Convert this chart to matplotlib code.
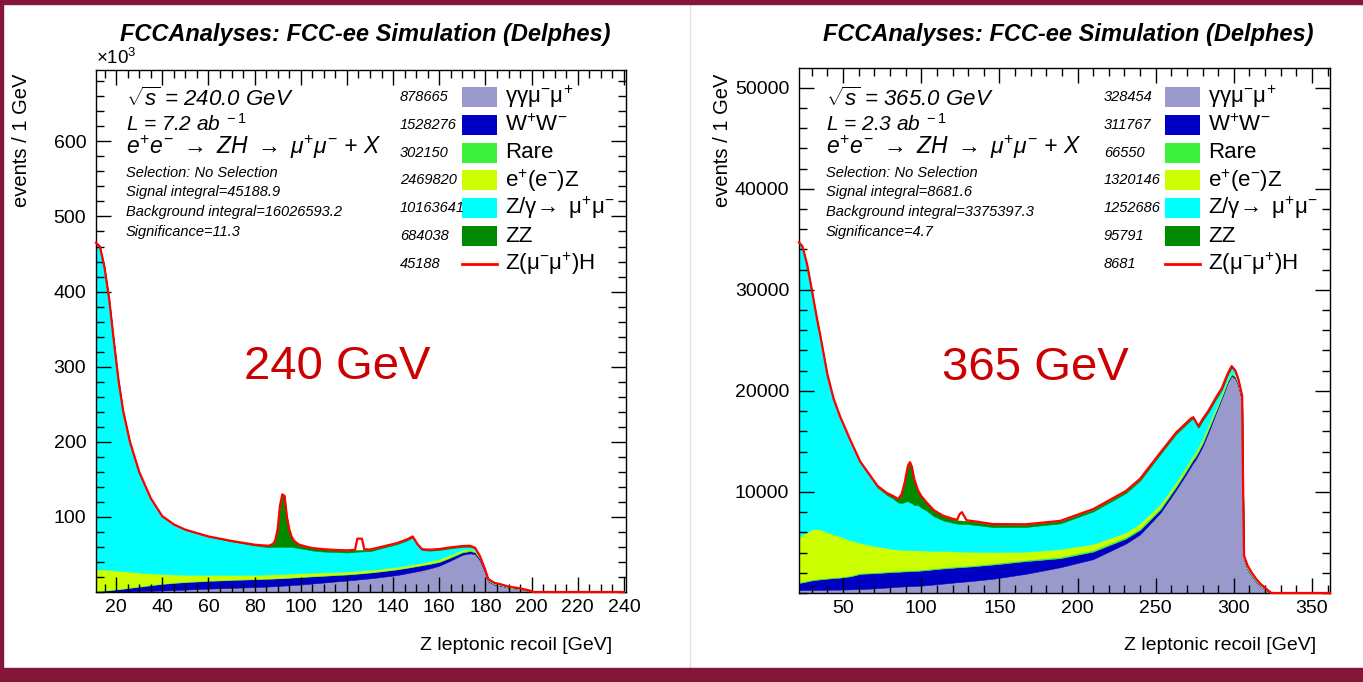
import numpy as np
import matplotlib
matplotlib.use("Agg")
import matplotlib.pyplot as plt
from matplotlib.patches import Rectangle
from matplotlib.lines import Line2D
from matplotlib.ticker import MultipleLocator

# Fuentes tipo Helvetica (ROOT)
plt.rcParams['font.family'] = ['Liberation Sans', 'DejaVu Sans']
plt.rcParams['mathtext.fontset'] = 'custom'
plt.rcParams['mathtext.rm'] = 'Liberation Sans'
plt.rcParams['mathtext.it'] = 'Liberation Sans:italic'
plt.rcParams['mathtext.bf'] = 'Liberation Sans:bold'

W, H = 1363, 682

# ---------------- datos 240 GeV (x10^3 eventos / GeV) ----------------
x240 = [11.3, 13, 15, 17, 19, 21, 23, 26, 30, 35,
        40, 45, 50, 60, 70, 80, 86, 88, 89, 90,
        91, 92, 93, 94, 95, 96, 97, 99, 101, 105,
        110, 115, 120, 123.5, 124.5, 126.5, 127.5, 130, 134, 141.5,
        146, 148.5, 150.5, 152.5, 156, 160, 165, 170, 173.3, 175.5,
        177.6, 179.8, 181.2, 184, 186.3, 190, 195, 199.3, 200.5, 240]
gg240 = [0.3, 0.3, 0.4, 0.4, 0.5, 0.5, 0.6, 0.8, 1.1, 1.5,
         2.0, 2.6, 3.2, 4.5, 5.5, 6.5, 7.3, 7.6, 7.8, 8.0,
         8.2, 8.4, 8.6, 8.8, 9.0, 9.2, 9.4, 9.8, 10.2, 11.3,
         12.6, 14.0, 15.3, 16.3, 16.6, 17.2, 17.5, 18.2, 19.6, 22.5,
         25.0, 26.5, 27.7, 28.9, 31.5, 35.0, 42.0, 49.5, 51.5, 50.5,
         42.0, 26.0, 14.0, 9.5, 8.5, 5.8, 3.9, 1.4, 0, 0]
ww240 = [0.8, 1.0, 1.5, 2.0, 2.6, 3.2, 3.8, 4.8, 6.0, 7.5,
         8.8, 9.5, 10.0, 10.3, 10.5, 10.5, 10.3, 10.2, 10.2, 10.1,
         10.1, 10.0, 10.0, 10.0, 9.9, 9.9, 9.9, 9.8, 9.8, 9.5,
         9.0, 8.5, 8.0, 7.8, 7.8, 7.7, 7.7, 7.7, 7.6, 7.5,
         7.2, 7.0, 6.9, 6.7, 6.0, 5.0, 4.0, 3.2, 3.0, 2.5,
         2.0, 1.3, 0.9, 0.6, 0.5, 0.3, 0.2, 0.1, 0, 0]
rare240 = [0.5, 0.5, 0.6, 0.6, 0.7, 0.7, 0.7, 0.8, 0.8, 0.8,
           0.8, 0.8, 0.8, 0.8, 0.8, 0.8, 0.8, 0.8, 0.8, 0.8,
           0.8, 0.8, 0.8, 0.8, 0.8, 0.8, 0.8, 0.8, 0.8, 0.8,
           0.8, 0.8, 0.8, 0.8, 0.8, 0.8, 0.8, 0.8, 0.8, 0.8,
           0.8, 0.8, 0.8, 0.8, 0.9, 1.0, 1.2, 1.5, 1.5, 1.3,
           1.0, 0.8, 0.6, 0.5, 0.4, 0.3, 0.2, 0.1, 0, 0]
eez240 = [28.4, 28.2, 27.5, 26.5, 25.2, 24.0, 22.7, 20.8, 18.0, 15.0,
          12.6, 10.5, 9.0, 7.3, 6.0, 5.2, 5.0, 4.9, 4.9, 4.8,
          4.8, 4.8, 4.7, 4.7, 4.7, 4.7, 4.6, 4.6, 4.5, 4.2,
          3.8, 3.5, 3.2, 3.1, 3.1, 3.0, 3.0, 2.9, 2.8, 2.6,
          2.6, 2.6, 2.6, 2.6, 2.7, 3.0, 3.0, 2.0, 1.5, 1.2,
          0.8, 0.6, 0.4, 0.3, 0.2, 0.1, 0.1, 0, 0, 0]
zmm240 = [434.8, 429.8, 401.8, 360.3, 305.8, 254.4, 214.0, 172.6, 133.8, 99.9,
          76.5, 66.3, 59.7, 50.7, 44.7, 39.0, 36.1, 36.5, 36.3, 36.3,
          36.1, 36.0, 35.9, 35.7, 35.6, 35.4, 34.8, 33.5, 32.2, 29.5,
          27.6, 26.4, 25.3, 25.2, 25.3, 25.3, 25.2, 24.7, 26.8, 30.1,
          33.0, 35.8, 24.7, 16.7, 13.9, 11.9, 8.0, 3.7, 2.8, 2.4,
          1.5, 1.3, 0.9, 0.7, 0.7, 0.5, 0.4, 0.2, 0, 0]
zz240 = [0.2, 0.2, 0.2, 0.2, 0.2, 0.2, 0.2, 0.2, 0.3, 0.3,
         0.3, 0.3, 0.3, 0.4, 0.5, 1.0, 2.0, 4.0, 9.0, 24.0,
         55.0, 70.0, 68.0, 40.0, 24.0, 14.0, 9.0, 5.0, 4.0, 3.0,
         3.0, 2.5, 2.5, 2.2, 2.1, 2.0, 2.0, 1.8, 1.5, 1.2,
         1.1, 1.0, 1.0, 1.0, 1.0, 1.0, 1.0, 1.0, 1.0, 0.8,
         0.5, 0.4, 0.3, 0.3, 0.2, 0.1, 0.1, 0, 0, 0]
sig240 = [0, 0, 0, 0, 0, 0, 0, 0, 0, 0,
          0, 0, 0, 0, 0, 0, 0, 0, 0, 0,
          0, 0, 0, 0, 0, 0, 0, 0, 0, 0.2,
          0.2, 0.3, 0.4, 0.6, 15.3, 15.0, 0.8, 0.4, 0.3, 0.3,
          0.3, 0.3, 0.3, 0.3, 0.3, 0.3, 0.3, 0.3, 0.3, 0.3,
          0.2, 0.2, 0.2, 0.1, 0.1, 0.1, 0, 0, 0, 0]

# ---------------- datos 365 GeV (eventos / GeV) ----------------
x365 = [21.8, 24, 27, 30, 33, 36, 40, 44, 48, 55,
        61, 67, 72, 78, 82, 85.3, 87.5, 89.5, 91.5, 92.8,
        94, 95.5, 97.8, 100, 103.5, 108, 114, 120, 123, 124.5,
        126, 127.5, 129, 132, 146, 167, 189, 210, 231, 240,
        253, 263, 268, 272, 274, 275.5, 277.3, 280, 284, 288,
        292.4, 296, 298.6, 301, 303, 305.3, 305.9, 306.5, 308.8, 311.5,
        314.3, 317, 319.8, 322, 324, 361.5]
gg365 = [300, 300, 300, 300, 310, 310, 320, 330, 335, 360,
         390, 430, 480, 540, 590, 620, 640, 660, 670, 680,
         690, 700, 715, 730, 780, 840, 930, 1020, 1070, 1090,
         1110, 1130, 1150, 1190, 1410, 1900, 2550, 3350, 4900, 5800,
         7950, 10200, 11400, 12400, 12900, 13200, 13700, 14500, 16000, 17600,
         19300, 20800, 21500, 21200, 20400, 18900, 10300, 3300, 2300, 1650,
         1100, 700, 400, 150, 0, 0]
ww365 = [700, 750, 850, 950, 1000, 1050, 1100, 1150, 1185, 1300,
         1510, 1510, 1500, 1500, 1500, 1480, 1480, 1480, 1480, 1480,
         1480, 1480, 1480, 1490, 1490, 1500, 1500, 1480, 1470, 1460,
         1460, 1450, 1450, 1440, 1410, 1260, 900, 750, 500, 450,
         330, 300, 300, 300, 300, 300, 300, 300, 300, 200,
         180, 150, 150, 150, 150, 120, 80, 60, 60, 50,
         40, 30, 20, 20, 0, 0]
rare365 = [100, 100, 100, 100, 100, 100, 100, 100, 100, 100,
           100, 100, 100, 110, 110, 110, 110, 110, 110, 110,
           110, 110, 110, 120, 120, 120, 120, 120, 120, 120,
           120, 120, 120, 120, 130, 140, 150, 170, 180, 200,
           200, 200, 200, 220, 220, 220, 220, 220, 220, 180,
           150, 120, 100, 100, 100, 100, 60, 60, 80, 80,
           70, 50, 40, 30, 0, 0]
eez365 = [4400, 4650, 4750, 4950, 4940, 4790, 4480, 4220, 3980, 3440,
          2950, 2710, 2520, 2300, 2150, 2090, 2050, 2020, 2000, 1980,
          1960, 1940, 1915, 1870, 1800, 1710, 1600, 1500, 1450, 1430,
          1410, 1390, 1370, 1340, 1090, 790, 750, 580, 420, 450,
          320, 300, 300, 280, 280, 280, 280, 280, 280, 220,
          170, 130, 100, 100, 100, 100, 60, 60, 80, 80,
          70, 50, 40, 30, 0, 0]
zmm365 = [29100, 28400, 26400, 23600, 20950, 18650, 15500, 13300, 11800, 9700,
          7950, 6830, 5850, 5250, 5000, 4650, 4620, 4730, 4840, 4700,
          4660, 4470, 4480, 4240, 3960, 3430, 3030, 2830, 2750, 2750,
          2740, 2730, 2730, 2690, 2480, 2440, 2540, 3220, 3900, 4220,
          4950, 4720, 4250, 3850, 3550, 2850, 1850, 1750, 1150, 850,
          350, 370, 470, 320, 230, 180, 120, 140, 100, 80,
          60, 40, 30, 10, 0, 0]
zz365 = [100, 100, 100, 100, 100, 100, 100, 100, 100, 100,
         100, 120, 150, 200, 250, 350, 900, 2000, 3500, 4000,
         3600, 2600, 1500, 1100, 750, 550, 420, 350, 330, 320,
         320, 310, 300, 300, 250, 220, 200, 180, 150, 130,
         100, 100, 100, 100, 100, 100, 100, 100, 100, 100,
         100, 80, 80, 80, 70, 50, 30, 30, 30, 20,
         20, 10, 10, 0, 0, 0]
sig365 = [0, 0, 0, 0, 0, 0, 0, 0, 0, 0,
          0, 0, 0, 0, 0, 0, 0, 0, 0, 0,
          0, 0, 0, 50, 50, 50, 50, 50, 60, 630,
          840, 470, 80, 60, 50, 50, 50, 50, 50, 50,
          50, 50, 50, 50, 50, 50, 50, 50, 50, 50,
          50, 50, 50, 50, 50, 50, 50, 50, 50, 40,
          30, 20, 20, 10, 0, 0]

colores = ['#9999cc', '#0000c4', '#3cf03c', '#ccff00', '#00ffff', '#008a00']
rojo = '#ff0000'

etiquetas = [r'$\mathregular{γγμ^{-}μ^{+}}$', r'$\mathregular{W^{+}W^{-}}$', 'Rare',
             r'$\mathregular{e^{+}(e^{-})Z}$', r'$\mathregular{Z/γ\!\rightarrow\ μ^{+}μ^{-}}$',
             'ZZ', r'$\mathregular{Z(μ^{-}μ^{+})H}$']
yields240 = ['878665', '1528276', '302150', '2469820', '10163641', '684038', '45188']
yields365 = ['328454', '311767', '66550', '1320146', '1252686', '95791', '8681']


def px(x, y):
    # pixeles -> fraccion de figura
    return x / W, 1 - y / H


fig = plt.figure(figsize=(W / 100, H / 100), dpi=100)
fig.patch.set_facecolor('white')


def panel(rect, x, capas, sig, xlim, ylim, xmaj, xmin, ymin, yticks):
    ax = fig.add_axes([rect[0] / W, 1 - rect[3] / H, (rect[2] - rect[0]) / W, (rect[3] - rect[1]) / H])
    ax.stackplot(x, *capas, colors=colores, linewidth=0.4, edgecolor='face')
    total = np.sum(np.array(capas + [sig]), axis=0)
    ax.plot(x, total, color=rojo, lw=1.6, clip_on=False, zorder=5)
    ax.set_xlim(*xlim)
    ax.set_ylim(*ylim)
    ax.xaxis.set_major_locator(MultipleLocator(xmaj))
    ax.xaxis.set_minor_locator(MultipleLocator(xmin))
    ax.set_yticks(yticks)
    ax.yaxis.set_minor_locator(MultipleLocator(ymin))
    ax.tick_params(which='both', direction='in', top=True, right=True, labelsize=14, width=1)
    ax.tick_params(which='major', length=11)
    ax.tick_params(which='minor', length=5.5)
    ax.tick_params(axis='y', pad=7)
    ax.tick_params(axis='x', pad=5)
    for s in ax.spines.values():
        s.set_linewidth(1.0)
    return ax


ax1 = panel((96, 70, 626, 592), x240, [gg240, ww240, rare240, eez240, zmm240, zz240], sig240,
            (11.3, 240.9), (0, 695), 20, 5, 20, [100, 200, 300, 400, 500, 600])
ax2 = panel((799, 68, 1330, 593), x365, [gg365, ww365, rare365, eez365, zmm365, zz365], sig365,
            (21.8, 361.5), (0, 51950), 50, 10, 2000, [10000, 20000, 30000, 40000, 50000])

# Titulos, ejes, textos y leyenda de cada panel
paneles = [
    (0, 626, 400, 462, [r'$\sqrt{s}$ = 240.0 GeV', r'L = 7.2 ab$^{\,\,-1}$', 'Signal integral=45188.9',
                        'Background integral=16026593.2', 'Significance=11.3'], yields240),
    (700, 1330, 1104, 1165, [r'$\sqrt{s}$ = 365.0 GeV', r'L = 2.3 ab$^{\,\,-1}$', 'Signal integral=8681.6',
                             'Background integral=3375397.3', 'Significance=4.7'], yields365)]

for x0, axr, nx, bx, info, yl in paneles:
    fig.text(*px(365 + x0 * 1.004, 35), 'FCCAnalyses: FCC-ee Simulation (Delphes)',
             ha='center', va='center', fontsize=17, fontweight='bold', fontstyle='italic')
    fig.text(*px(axr - 14, 645), 'Z leptonic recoil [GeV]', ha='right', va='center', fontsize=14)
    fig.text(*px(22 + x0, 74), 'events / 1 GeV', ha='center', va='top', rotation=90, fontsize=14.5)
    tx = 126 + x0
    fig.text(*px(tx, 99), info[0], ha='left', va='center', fontsize=16, fontstyle='italic')
    fig.text(*px(tx, 124), info[1], ha='left', va='center', fontsize=15, fontstyle='italic')
    fig.text(*px(tx, 147), r'$e^{+}e^{-}$ $\rightarrow$ ZH $\rightarrow$ $μ^{+}μ^{-}$ + X',
             ha='left', va='center', fontsize=16.5, fontstyle='italic')
    fig.text(*px(tx, 173), 'Selection: No Selection', ha='left', va='center', fontsize=10.5, fontstyle='italic')
    for k, t in enumerate(info[2:]):
        fig.text(*px(tx, 192 + 20 * k), t, ha='left', va='center', fontsize=10.5, fontstyle='italic')
    # leyenda
    for i in range(7):
        yc = 97 + 27.8 * i
        fig.text(*px(nx, yc), yl[i], ha='left', va='center', fontsize=10.5, fontstyle='italic')
        if i < 6:
            fig.add_artist(Rectangle(px(bx, yc + 10), 35 / W, 20 / H, transform=fig.transFigure,
                                     facecolor=colores[i], edgecolor='none'))
        else:
            fig.add_artist(Line2D([bx / W, (bx + 35) / W], [1 - yc / H, 1 - yc / H],
                                  transform=fig.transFigure, color=rojo, lw=2))
        fig.text(*px(bx + 43, yc), etiquetas[i], ha='left', va='center', fontsize=16)

fig.text(*px(96, 58), r'$\mathregular{\times10^{3}}$', ha='left', va='center', fontsize=13.5)

# Etiquetas grandes en rojo
fig.text(*px(337, 367), '240 GeV', ha='center', va='center', fontsize=34, color='#cc0000')
fig.text(*px(1035, 368), '365 GeV', ha='center', va='center', fontsize=34, color='#cc0000')

# Marco de la diapositiva
granate = '#851638'
fig.add_artist(Rectangle((0, 1 - 4 / H), 1, 4 / H, transform=fig.transFigure, color=granate, zorder=10))
fig.add_artist(Rectangle((0, 0), 3 / W, 1, transform=fig.transFigure, color=granate, zorder=10))
fig.add_artist(Rectangle((0, 0), 1, 14 / H, transform=fig.transFigure, color=granate, zorder=10))
fig.add_artist(Line2D([690 / W, 690 / W], [14 / H, 1 - 4 / H], transform=fig.transFigure,
                      color='#e0e0e0', lw=1))

fig.savefig('out.png', dpi=100)
